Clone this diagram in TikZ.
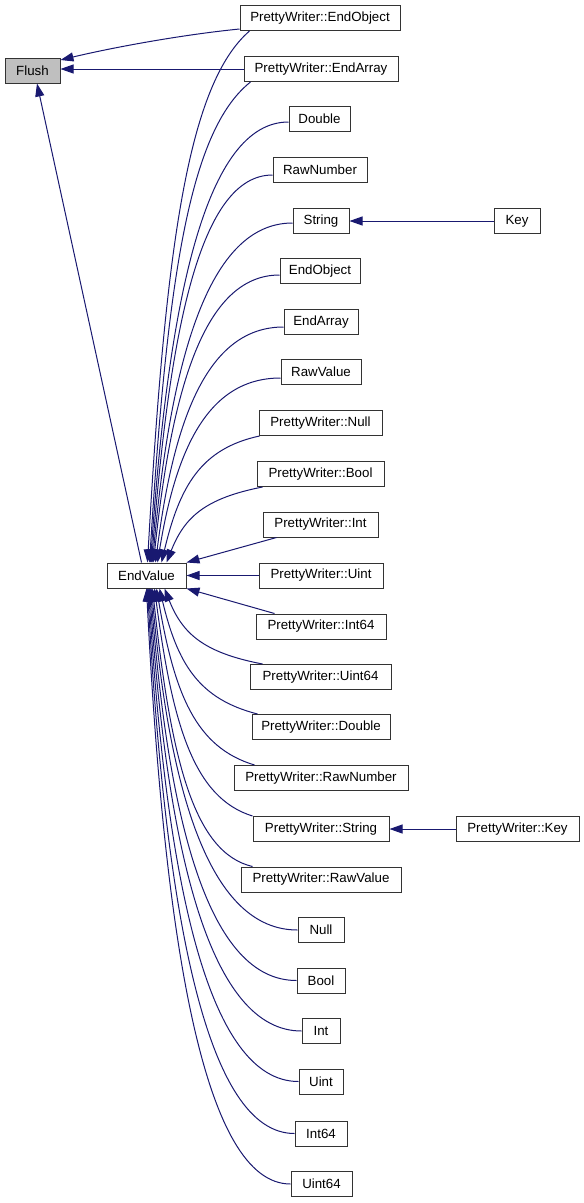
\documentclass[tikz,border=0pt]{standalone}
\usepackage{fontspec}
\setmainfont{Liberation Sans}
\usetikzlibrary{arrows.meta,calc}
\definecolor{edgeblue}{RGB}{25,25,112}
\newcommand\fan[3]{%
  \draw[conn] let \p1=#1, \p2=#2 in
    (\p1) .. controls ($(\p1)+({-0.6*(\x1-\x2)},{#3*(\y2-\y1)})$) and ($(\p2)+(18pt,{-0.6*(\y2-\y1)})$) .. (\p2);}
\begin{document}
\begin{tikzpicture}[x=1pt,y=-1pt,
  box/.style={draw=black!80,line width=1pt,fill=white,minimum height=25pt,inner xsep=1pt,inner ysep=0pt,
    font=\fontsize{13.3}{15}\selectfont},
  conn/.style={draw=edgeblue,line width=1pt,-{Triangle[length=13pt,width=9pt]}}]
\useasboundingbox (0,0) rectangle (584,1203);
% nodes
\node[box,fill=black!25,minimum width=55pt] (flush) at (32.5,70.5) {Flush};
\node[box,minimum width=160pt] (peo) at (320,18) {PrettyWriter::EndObject};
\node[box,minimum width=154pt] (pea) at (321,69) {PrettyWriter::EndArray};
\node[box,minimum width=61pt] (double) at (319.5,119) {Double};
\node[box,minimum width=94pt] (rawnumber) at (320,170) {RawNumber};
\node[box,minimum width=56pt] (string) at (321,221) {String};
\node[box,minimum width=46pt] (key) at (517,221) {Key};
\node[box,minimum width=80pt] (endobject) at (320,271) {EndObject};
\node[box,minimum width=74pt] (endarray) at (321,322) {EndArray};
\node[box,minimum width=80pt] (rawvalue) at (321,372) {RawValue};
\node[box,minimum width=123pt] (pnull) at (320.5,423) {PrettyWriter::Null};
\node[box,minimum width=127pt] (pbool) at (320.5,474) {PrettyWriter::Bool};
\node[box,minimum width=115pt] (pint) at (320.5,524.5) {PrettyWriter::Int};
\node[box,minimum width=79pt] (ev) at (146.5,575.5) {EndValue};
\node[box,minimum width=124pt] (puint) at (321,575.5) {PrettyWriter::Uint};
\node[box,minimum width=130pt] (pint64) at (321,626.5) {PrettyWriter::Int64};
\node[box,minimum width=141pt] (puint64) at (320.5,677) {PrettyWriter::Uint64};
\node[box,minimum width=138pt] (pdouble) at (321,727) {PrettyWriter::Double};
\node[box,minimum width=174pt] (prawnumber) at (321,778) {PrettyWriter::RawNumber};
\node[box,minimum width=136pt] (pstring) at (321,829) {PrettyWriter::String};
\node[box,minimum width=123pt] (pkey) at (517.5,829) {PrettyWriter::Key};
\node[box,minimum width=160pt] (prawvalue) at (321,879.5) {PrettyWriter::RawValue};
\node[box,minimum width=46pt] (null) at (321,930) {Null};
\node[box,minimum width=48pt] (bool) at (321,980.5) {Bool};
\node[box,minimum width=38pt] (int) at (321,1031) {Int};
\node[box,minimum width=44pt] (uint) at (321,1081.5) {Uint};
\node[box,minimum width=52pt] (int64) at (321,1133.5) {Int64};
\node[box,minimum width=61pt] (uint64) at (321.5,1184) {Uint64};
% edges to Flush
\draw[conn] ($(peo.south west)+(0,-2)$) .. controls +(-60,6) and +(50,-12) .. ($(flush.north east)+(0,2.5)$);
\draw[conn] (pea.west) -- (pea.west -| flush.east);
\draw[conn] ($(ev.north west)+(35,0)$) -- ($(flush.south)+(4.5,0)$);
% edges to String
\draw[conn] (key.west) -- (string.east);
\draw[conn] (pkey.west) -- (pstring.east);
% edges to EndValue from above
\fan{($(peo.south west)+(10,0)$)}{($(ev.north west)+(41,0)$)}{0.1}
\fan{($(pea.south west)+(7,0)$)}{($(ev.north west)+(43,0)$)}{0.1}
\fan{($(double.west)+(0,3)$)}{($(ev.north west)+(44,0)$)}{0}
\fan{($(rawnumber.west)+(0,5)$)}{($(ev.north west)+(45,0)$)}{0}
\fan{($(string.west)+(0,2)$)}{($(ev.north west)+(46,0)$)}{0}
\fan{($(endobject.west)+(0,4)$)}{($(ev.north west)+(47,0)$)}{0}
\fan{($(endarray.west)+(0,5)$)}{($(ev.north west)+(49,0)$)}{0}
\fan{($(rawvalue.west)+(0,6)$)}{($(ev.north west)+(51,0)$)}{0}
\fan{($(pnull.south west)+(1,0)$)}{($(ev.north west)+(55,0)$)}{0.1}
\fan{($(pbool.south west)+(6,0)$)}{($(ev.north west)+(60,0)$)}{0.15}
\draw[conn] ($(pint.south west)+(14,0)$) -- (ev.north east);
\draw[conn] (puint.west) -- (ev.east);
\draw[conn] ($(pint64.north west)+(19,0)$) -- (ev.south east);
% edges to EndValue from below
\fan{($(puint64.north west)+(13,0)$)}{($(ev.south west)+(58,0)$)}{0.15}
\fan{($(pdouble.north west)+(6,0)$)}{($(ev.south west)+(53,0)$)}{0.12}
\fan{($(prawnumber.north west)+(21,0)$)}{($(ev.south west)+(50,0)$)}{0.1}
\fan{(pstring.north west)}{($(ev.south west)+(48,0)$)}{0.08}
\fan{($(prawvalue.north west)+(12,0)$)}{($(ev.south west)+(46,0)$)}{0.05}
\fan{(null.west)}{($(ev.south west)+(45,0)$)}{0}
\fan{(bool.west)}{($(ev.south west)+(44,0)$)}{0}
\fan{(int.west)}{($(ev.south west)+(43,0)$)}{0}
\fan{(uint.west)}{($(ev.south west)+(42,0)$)}{0}
\fan{(int64.west)}{($(ev.south west)+(41,0)$)}{0}
\fan{(uint64.west)}{($(ev.south west)+(40,0)$)}{0}
\end{tikzpicture}
\end{document}
